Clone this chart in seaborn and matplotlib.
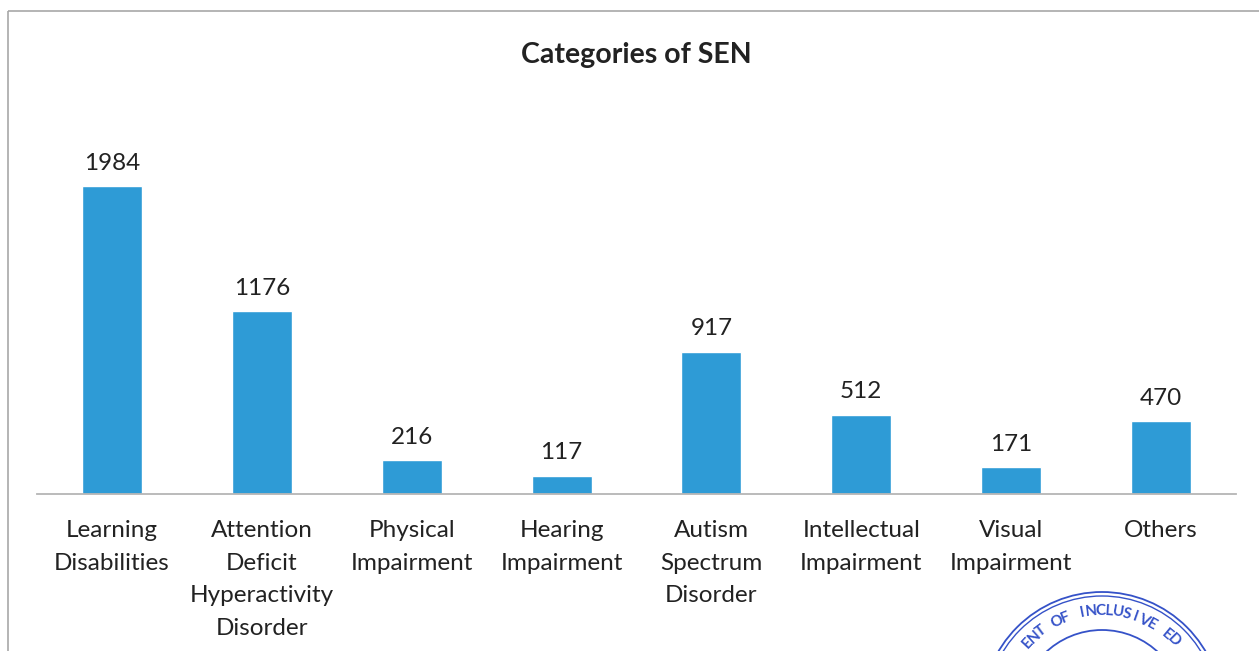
import numpy as np
import pandas as pd
import matplotlib
matplotlib.use("Agg")
import matplotlib.pyplot as plt
import seaborn as sns
from matplotlib.patches import Circle, Rectangle

categories = ["Learning\nDisabilities", "Attention\nDeficit\nHyperactivity\nDisorder",
              "Physical\nImpairment", "Hearing\nImpairment", "Autism\nSpectrum\nDisorder",
              "Intellectual\nImpairment", "Visual\nImpairment", "Others"]
counts = [1984, 1176, 216, 117, 917, 512, 171, 470]
title = "Categories of SEN"
stamp_text = "ENT OF INCLUSIVE ED"

sns.set_theme(style="white")
plt.rcParams['font.family'] = ['Lato', 'DejaVu Sans']

W, H = 1259, 651
fig = plt.figure(figsize=(W / 100, H / 100), dpi=100)
ax = fig.add_axes([37 / W, 157 / H, (1236 - 37) / W, (494 - 130) / H])

df = pd.DataFrame({"category": categories, "count": counts})
sns.barplot(data=df, x="category", y="count", color="#2E9BD6", width=0.4,
            saturation=1, ax=ax)
ax.bar_label(ax.containers[0], fmt="%d", padding=9, fontsize=17.5, color="#222222")

ax.set_xlim(-0.5, 7.5)
ax.set_ylim(0, 2345)
ax.set_xlabel("")
ax.set_ylabel("")
ax.set_yticks([])
for side in ["top", "left", "right"]:
    ax.spines[side].set_visible(False)
ax.spines["bottom"].set_color("#b5b5b5")
ax.spines["bottom"].set_linewidth(1.3)
ax.tick_params(axis="x", length=0, pad=18.5, labelsize=17.5, labelcolor="#222222")
for lbl in ax.get_xticklabels():
    lbl.set_linespacing(1.7)
    lbl.set_verticalalignment("top")

fig.text(636 / W, 1 - 55 / H, title, ha="center", va="center",
         fontsize=20.5, fontweight="bold", color="#222222")

# overlay in pixel coordinates: frame border and the stamp
ov = fig.add_axes([0, 0, 1, 1], facecolor="none")
ov.set_xlim(0, W)
ov.set_ylim(H, 0)
ov.axis("off")
ov.add_patch(Rectangle((8, 11), W, H, fill=False, edgecolor="#a8a8a8", lw=1.2))

cx, cy = 1102, 712
blue = "#3552c8"
for r, lw in [(120, 1.3), (116, 1.0), (82, 1.3)]:
    ov.add_patch(Circle((cx, cy), r, fill=False, edgecolor=blue, lw=lw))
angles = np.linspace(-47, 45, len(stamp_text))
for ch, a in zip(stamp_text, angles):
    t = np.deg2rad(a)
    ov.text(cx + 101 * np.sin(t), cy - 101 * np.cos(t), ch, rotation=-a,
            ha="center", va="center", fontsize=11, fontweight="bold", color=blue)

fig.savefig("out.png", dpi=100)
